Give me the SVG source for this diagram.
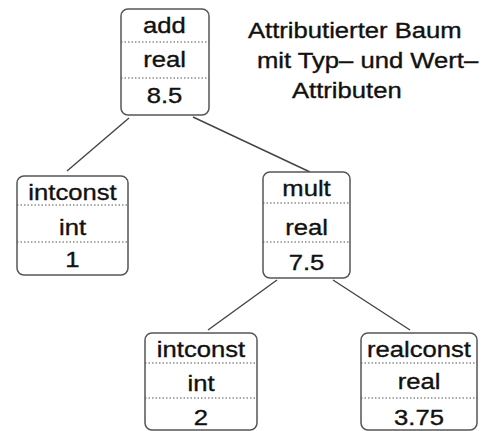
<svg xmlns="http://www.w3.org/2000/svg" width="487" height="431" viewBox="0 0 487 431">
<style>
.box{fill:#fff;stroke:#555;stroke-width:1.5}
.div{stroke:#555;stroke-width:1.2;stroke-dasharray:1.5 2;fill:none}
.edge{stroke:#444;stroke-width:1.4;fill:none}
text{font-family:"Liberation Sans",Arial,Helvetica,sans-serif;font-size:22px;fill:#111;stroke:#111;stroke-width:0.35}
.c{text-anchor:middle}
</style>
<rect width="487" height="431" fill="#fff"/>
<g id="connectors">
<line class="edge" x1="129" y1="118" x2="67" y2="171"/>
<line class="edge" x1="193" y1="117" x2="310" y2="172"/>
<line class="edge" x1="277" y1="280" x2="208" y2="330"/>
<line class="edge" x1="333" y1="280" x2="410" y2="330"/>
</g>
<g id="title">
<text transform="matrix(1.165 0 0 1 248 38)">Attributierter Baum</text>
<text transform="matrix(1.165 0 0 1 257 68)">mit Typ– und Wert–</text>
<text transform="matrix(1.165 0 0 1 292 98)">Attributen</text>
</g>
<g id="n-add">
<rect class="box" x="121" y="9" width="88" height="106" rx="7"/>
<line class="div" x1="121" y1="42" x2="209" y2="42"/>
<line class="div" x1="121" y1="78" x2="209" y2="78"/>
<text class="c" transform="matrix(1.165 0 0 1 164.5 33)">add</text>
<text class="c" transform="matrix(1.165 0 0 1 164.5 67)">real</text>
<text class="c" transform="matrix(1.165 0 0 1 164.5 103)">8.5</text>
</g>
<g id="n-intconst1">
<rect class="box" x="17" y="176" width="111" height="99" rx="7"/>
<line class="div" x1="17" y1="205" x2="128" y2="205"/>
<line class="div" x1="17" y1="242" x2="128" y2="242"/>
<text class="c" transform="matrix(1.165 0 0 1 72.5 200)">intconst</text>
<text class="c" transform="matrix(1.165 0 0 1 72.5 235)">int</text>
<text class="c" transform="matrix(1.165 0 0 1 72.5 267)">1</text>
</g>
<g id="n-mult">
<rect class="box" x="263" y="172" width="87" height="106" rx="7"/>
<line class="div" x1="263" y1="203" x2="350" y2="203"/>
<line class="div" x1="263" y1="242" x2="350" y2="242"/>
<text class="c" transform="matrix(1.165 0 0 1 306.5 196)">mult</text>
<text class="c" transform="matrix(1.165 0 0 1 306.5 235)">real</text>
<text class="c" transform="matrix(1.165 0 0 1 306.5 270)">7.5</text>
</g>
<g id="n-intconst2">
<rect class="box" x="145" y="333" width="112" height="97" rx="7"/>
<line class="div" x1="145" y1="363" x2="257" y2="363"/>
<line class="div" x1="145" y1="398" x2="257" y2="398"/>
<text class="c" transform="matrix(1.165 0 0 1 201 357)">intconst</text>
<text class="c" transform="matrix(1.165 0 0 1 201 391)">int</text>
<text class="c" transform="matrix(1.165 0 0 1 201 425)">2</text>
</g>
<g id="n-realconst">
<rect class="box" x="361" y="333" width="116" height="97" rx="7"/>
<line class="div" x1="361" y1="363" x2="477" y2="363"/>
<line class="div" x1="361" y1="398" x2="477" y2="398"/>
<text class="c" transform="matrix(1.165 0 0 1 419 357)">realconst</text>
<text class="c" transform="matrix(1.165 0 0 1 419 389)">real</text>
<text class="c" transform="matrix(1.165 0 0 1 419 425)">3.75</text>
</g>
</svg>
